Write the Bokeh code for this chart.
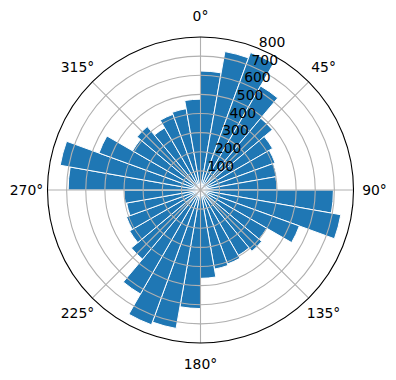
import numpy as np
from bokeh.plotting import figure
from bokeh.models import Range1d, ColumnDataSource
from bokeh.core.properties import value
from bokeh.embed import file_html
from bokeh.resources import INLINE

# ---- data ----
directions = [0, 10, 20, 30, 40, 50, 60, 70, 80,
              90, 100, 110, 120, 130, 140, 150, 160, 170,
              180, 190, 200, 210, 220, 230, 240, 250, 260,
              270, 280, 290, 300, 310, 320, 330, 340, 350]
counts = [622, 735, 765, 628, 490, 435, 415, 405, 400,
          695, 745, 550, 400, 418, 395, 412, 420, 462,
          620, 735, 750, 628, 472, 428, 412, 392, 400,
          692, 745, 565, 410, 433, 375, 421, 432, 475]
bin_width = 10
r_ticks = [100, 200, 300, 400, 500, 600, 700, 800]
r_max = 800
theta_ticks = [0, 45, 90, 135, 180, 225, 270, 315]
theta_labels = ["0°", "45°", "90°", "135°", "180°", "225°", "270°", "315°"]

W, H = 396, 380
cx, cy = 200.0, 189.5
R_px = 153.0
k = r_max / R_px  # data units per pixel

p = figure(width=W, height=H, output_backend="svg", toolbar_location=None,
           x_range=Range1d(-cx * k, (W - cx) * k),
           y_range=Range1d(-(H - cy) * k, cy * k),
           x_axis_type=None, y_axis_type=None, min_border=0)
p.grid.visible = False
p.outline_line_color = None
p.background_fill_color = "white"

d = np.array(directions, dtype=float)
# compass (clockwise from north) -> math angle
start = np.deg2rad(90 - d - bin_width)
end = np.deg2rad(90 - d)
src = ColumnDataSource(dict(r=counts, s=start, e=end))
p.wedge(x=0, y=0, radius="r", start_angle="s", end_angle="e", source=src,
        fill_color="#1f77b4", line_color="white", line_width=1)

grid_color = "#b0b0b0"
# radial grid circles
p.circle(x=[0] * (len(r_ticks) - 1), y=[0] * (len(r_ticks) - 1), radius=r_ticks[:-1],
         fill_color=None, line_color=grid_color, line_width=1.1)
# angular grid lines
t = np.deg2rad(np.array(theta_ticks, dtype=float))
p.segment(x0=np.zeros(len(t)), y0=np.zeros(len(t)),
          x1=r_max * np.sin(t), y1=r_max * np.cos(t),
          line_color=grid_color, line_width=1.1)
# outer spine
p.circle(x=[0], y=[0], radius=[r_max], fill_color=None, line_color="black", line_width=1.1)

# angle labels
R_lab = 174 * k
p.text(x=R_lab * np.sin(t), y=R_lab * np.cos(t), text=theta_labels,
       text_font=value("DejaVu Sans"), text_font_size="13.9px",
       text_align="center", text_baseline="middle", text_color="black")

# radial labels along 22.5 deg
a = np.deg2rad(22.5)
rt = np.array(r_ticks, dtype=float)
p.text(x=rt * np.sin(a) + 13 * k, y=rt * np.cos(a) + 6.8 * k, text=[str(v) for v in r_ticks],
       text_font=value("DejaVu Sans"), text_font_size="13.9px",
       text_align="center", text_baseline="middle", text_color="black")

open("out.html", "w").write(file_html(p, INLINE))
